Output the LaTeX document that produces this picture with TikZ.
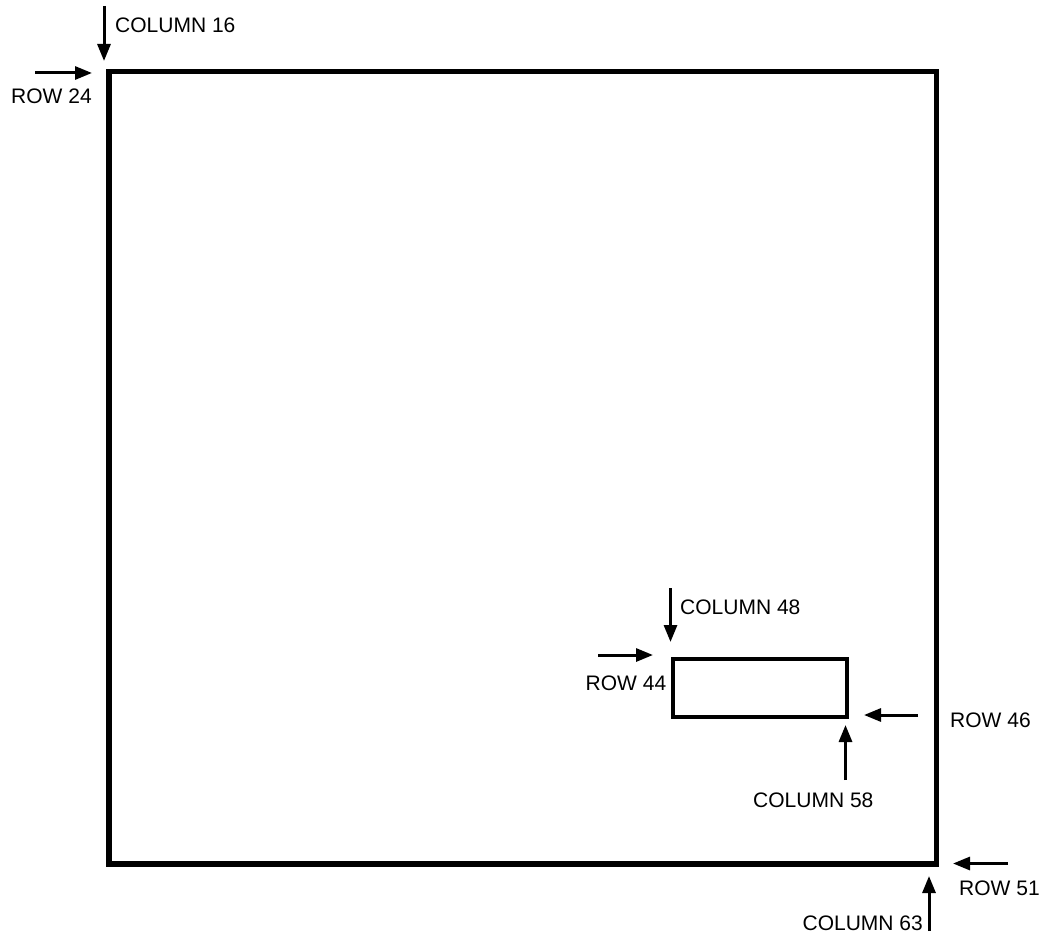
\documentclass[tikz,border=0pt]{standalone}
\usepackage{fontspec}
\setmainfont{Liberation Sans}
\usetikzlibrary{arrows.meta}
\begin{document}
\begin{tikzpicture}[x=1pt,y=-1pt,
  pointer/.style={line width=3pt,-{Triangle[length=17pt,width=13pt]}},
  lbl/.style={font=\fontsize{21}{24}\selectfont, inner sep=0pt, anchor=west},
  frame/.style={line width=5.5pt},
  box/.style={line width=4pt}]
\useasboundingbox (0,0) rectangle (1043,936);
% outer frame
\draw[frame] (109,71.5) rectangle (936.5,864);
% inner box
\draw[box] (672.5,658.5) rectangle (847,716.5);
% COLUMN 16
\coordinate (c16a) at (104,6);
\coordinate (c16b) at (104,61);
\draw[pointer] (c16a) -- (c16b);
\node[lbl] (c16) at (115,25) {COLUMN 16};
% ROW 24
\coordinate (r24a) at (35,73);
\coordinate (r24b) at (92,73);
\draw[pointer] (r24a) -- (r24b);
\node[lbl] (r24) at (11,96) {ROW 24};
% COLUMN 48
\coordinate (c48a) at (670.5,588);
\coordinate (c48b) at (670.5,642);
\draw[pointer] (c48a) -- (c48b);
\node[lbl] (c48) at (680,607) {COLUMN 48};
% ROW 44
\coordinate (r44a) at (598,655);
\coordinate (r44b) at (653,655);
\draw[pointer] (r44a) -- (r44b);
\node[lbl] (r44) at (585.5,683.5) {ROW 44};
% ROW 46
\coordinate (r46a) at (918,715);
\coordinate (r46b) at (864,715);
\draw[pointer] (r46a) -- (r46b);
\node[lbl] (r46) at (950,720) {ROW 46};
% COLUMN 58
\coordinate (c58a) at (845.5,780);
\coordinate (c58b) at (845.5,725);
\draw[pointer] (c58a) -- (c58b);
\node[lbl] (c58) at (753,800) {COLUMN 58};
% ROW 51
\coordinate (r51a) at (1008,863.5);
\coordinate (r51b) at (953,863.5);
\draw[pointer] (r51a) -- (r51b);
\node[lbl] (r51) at (959,888) {ROW 51};
% COLUMN 63
\coordinate (c63a) at (929,931);
\coordinate (c63b) at (929,876);
\draw[pointer] (c63a) -- (c63b);
\node[lbl, anchor=east] (c63) at (923,923) {COLUMN 63};
\end{tikzpicture}
\end{document}
